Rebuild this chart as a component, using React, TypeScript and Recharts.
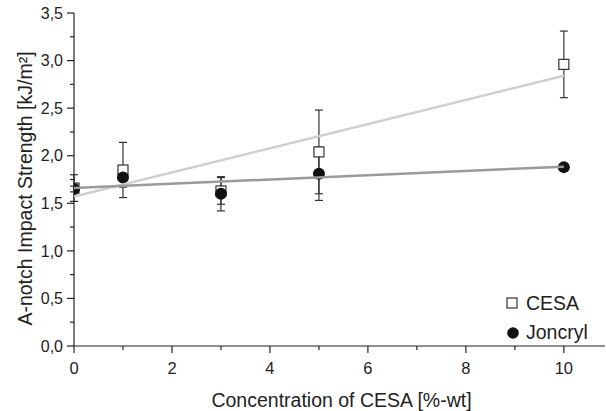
import React from 'react';
import { ComposedChart, Scatter, XAxis, YAxis, ErrorBar, Legend, Label } from 'recharts';

// values
const concentration = [0, 1, 3, 5, 10];
const cesaStrength = [1.66, 1.85, 1.63, 2.04, 2.96];
const cesaError = [0.14, 0.29, 0.14, 0.44, 0.35];
const joncrylStrength = [1.65, 1.77, 1.6, 1.81, 1.88];
const joncrylError = [0.03, 0.1, 0.18, 0.28, 0.0];

// linear fits drawn as straight lines
const trendX = [0, 10];
const cesaTrend = [1.57, 2.84];
const joncrylTrend = [1.66, 1.885];

const xTicks = [0, 1, 2, 3, 4, 5, 6, 7, 8, 9, 10];
const yTicks = [0, 0.25, 0.5, 0.75, 1, 1.25, 1.5, 1.75, 2, 2.25, 2.5, 2.75, 3, 3.25, 3.5];

const cesaData = concentration.map((x, i) => ({ x, y: cesaStrength[i], err: cesaError[i] }));
const joncrylData = concentration.map((x, i) => ({ x, y: joncrylStrength[i], err: joncrylError[i] }));
const cesaLine = trendX.map((x, i) => ({ x, y: cesaTrend[i] }));
const joncrylLine = trendX.map((x, i) => ({ x, y: joncrylTrend[i] }));

const FONT = '"Liberation Sans", Arial, sans-serif';
const INK = '#222';
const TICK_SIZE = 8;

const isMajor = (v: number, step: number) => Math.abs(v / step - Math.round(v / step)) < 1e-6;

const YTick = (props: any) => {
  const { x, y, payload } = props;
  const v = payload.value as number;
  const major = isMajor(v, 0.5);
  const axisX = x + TICK_SIZE + 3;
  return (
    <g>
      <line x1={axisX - (major ? 7 : 4)} x2={axisX} y1={y} y2={y} stroke={INK} strokeWidth={1.2} />
      {major && (
        <text x={x} y={y} dy="0.36em" textAnchor="end" fontSize={16} fill={INK} fontFamily={FONT}>
          {v.toFixed(1).replace('.', ',')}
        </text>
      )}
    </g>
  );
};

const XTick = (props: any) => {
  const { x, y, payload } = props;
  const v = payload.value as number;
  const major = isMajor(v, 2);
  const axisY = y - TICK_SIZE - 8;
  return (
    <g>
      <line x1={x} x2={x} y1={axisY} y2={axisY + (major ? 7 : 4)} stroke={INK} strokeWidth={1.2} />
      {major && (
        <text x={x} y={y} dy="0.71em" textAnchor="middle" fontSize={16.5} fill={INK} fontFamily={FONT}>
          {v}
        </text>
      )}
    </g>
  );
};

const Square = (props: any) => {
  const { cx, cy } = props;
  return <rect x={cx - 5} y={cy - 5} width={10} height={10} fill="#fff" stroke="#333" strokeWidth={1.2} />;
};

const Dot = (props: any) => {
  const { cx, cy } = props;
  return <circle cx={cx} cy={cy} r={6} fill="#111" />;
};

const NoShape = () => <g />;

const LegendBox = () => (
  <svg width={100} height={60} style={{ overflow: 'visible' }}>
    <rect x={2} y={8} width={10} height={10} fill="#fff" stroke="#333" strokeWidth={1.2} />
    <text x={21} y={13} dy="0.36em" fontSize={19.5} fill={INK} fontFamily={FONT}>CESA</text>
    <circle cx={8} cy={43} r={5.8} fill="#111" />
    <text x={21} y={42} dy="0.36em" fontSize={19.5} fill={INK} fontFamily={FONT}>Joncryl</text>
  </svg>
);

export default function App() {
  return (
    <div style={{ position: 'absolute', left: 0, top: 0 }}>
      <ComposedChart width={606} height={411} margin={{ top: 13, right: 1, left: 14, bottom: 0 }}>
        <XAxis
          type="number"
          dataKey="x"
          domain={[0, 10.84]}
          ticks={xTicks}
          allowDataOverflow
          height={65}
          tickSize={TICK_SIZE}
          tickMargin={8}
          tickLine={false}
          tick={<XTick />}
          axisLine={{ stroke: INK, strokeWidth: 1.2 }}
        >
          <Label
            content={({ viewBox }: any) => (
              <text
                x={viewBox.x + viewBox.width / 2 + 2}
                y={viewBox.y + 61}
                textAnchor="middle"
                fontSize={19.5}
                fill={INK}
                fontFamily={FONT}
              >
                Concentration of CESA [%-wt]
              </text>
            )}
          />
        </XAxis>
        <YAxis
          type="number"
          dataKey="y"
          domain={[0, 3.5]}
          ticks={yTicks}
          width={60}
          tickSize={TICK_SIZE}
          tickMargin={3}
          tickLine={false}
          tick={<YTick />}
          axisLine={{ stroke: INK, strokeWidth: 1.2 }}
        >
          <Label
            content={({ viewBox }: any) => {
              const cx = 32;
              const cy = viewBox.y + viewBox.height / 2 + 9;
              return (
                <text
                  x={cx}
                  y={cy}
                  transform={`rotate(-90 ${cx} ${cy})`}
                  textAnchor="middle"
                  fontSize={19.5}
                  fill={INK}
                  fontFamily={FONT}
                >
                  A-notch Impact Strength [kJ/m²]
                </text>
              );
            }}
          />
        </YAxis>
        <Scatter name="CESA" data={cesaData} shape={<Square />} isAnimationActive={false}>
          <ErrorBar dataKey="err" direction="y" width={4} stroke="#333" strokeWidth={1.2} isAnimationActive={false} />
        </Scatter>
        <Scatter name="Joncryl" data={joncrylData} shape={<Dot />} isAnimationActive={false}>
          <ErrorBar dataKey="err" direction="y" width={4} stroke="#333" strokeWidth={1.2} isAnimationActive={false} />
        </Scatter>
        <Scatter
          data={cesaLine}
          line={{ stroke: '#cfcfcf', strokeWidth: 2.5 }}
          shape={<NoShape />}
          legendType="none"
          isAnimationActive={false}
        />
        <Scatter
          data={joncrylLine}
          line={{ stroke: '#9a9a9a', strokeWidth: 2.5 }}
          shape={<NoShape />}
          legendType="none"
          isAnimationActive={false}
        />
        <Legend
          layout="vertical"
          align="center"
          verticalAlign="middle"
          wrapperStyle={{ left: 505, top: 290, width: 100 }}
          content={<LegendBox />}
        />
      </ComposedChart>
    </div>
  );
}
